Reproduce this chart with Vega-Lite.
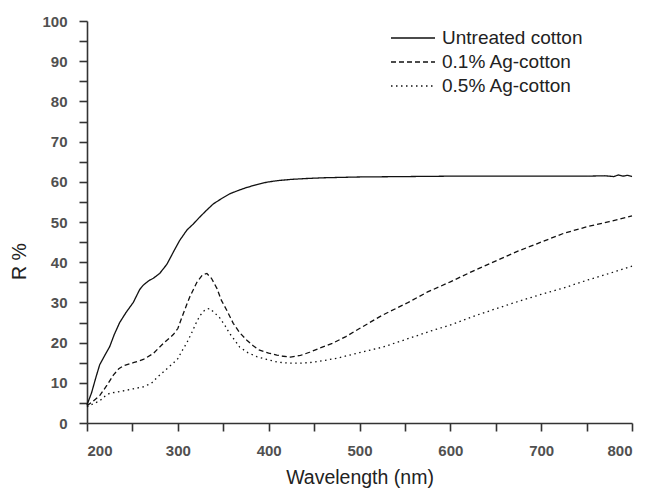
{
  "$schema": "https://vega.github.io/schema/vega-lite/v6.json",
  "width": 545,
  "height": 402,
  "autosize": "none",
  "padding": {"left": 87, "top": 21, "right": 13, "bottom": 66},
  "background": "white",
  "config": {
    "font": "Liberation Sans",
    "view": {"stroke": null},
    "axis": {"grid": false, "domainColor": "#333", "domainWidth": 1.6, "tickColor": "#333", "tickWidth": 1.6, "labelColor": "#505050", "labelFont": "Liberation Sans", "labelFontWeight": "bold", "labelFontSize": 15, "titleFont": "Liberation Sans", "titleFontWeight": "normal", "titleFontSize": 19.5, "titleColor": "#222"}
  },
  "data": {"values": [
    {"s":"Untreated cotton","x":200,"y":4.5},{"s":"Untreated cotton","x":205,"y":7.5},{"s":"Untreated cotton","x":210,"y":11.5},{"s":"Untreated cotton","x":214,"y":14.5},{"s":"Untreated cotton","x":220,"y":17},{"s":"Untreated cotton","x":225,"y":19},{"s":"Untreated cotton","x":230,"y":22},{"s":"Untreated cotton","x":236,"y":25},{"s":"Untreated cotton","x":243,"y":27.5},{"s":"Untreated cotton","x":251,"y":30},{"s":"Untreated cotton","x":258,"y":33.2},{"s":"Untreated cotton","x":262,"y":34.3},{"s":"Untreated cotton","x":268,"y":35.4},{"s":"Untreated cotton","x":273,"y":36},{"s":"Untreated cotton","x":280,"y":37.2},{"s":"Untreated cotton","x":288,"y":39.5},{"s":"Untreated cotton","x":295,"y":42.5},{"s":"Untreated cotton","x":302,"y":45.4},{"s":"Untreated cotton","x":310,"y":48},{"s":"Untreated cotton","x":317,"y":49.5},{"s":"Untreated cotton","x":324,"y":51.2},{"s":"Untreated cotton","x":332,"y":53},{"s":"Untreated cotton","x":339,"y":54.5},{"s":"Untreated cotton","x":348,"y":55.8},{"s":"Untreated cotton","x":357,"y":57},{"s":"Untreated cotton","x":366,"y":57.8},{"s":"Untreated cotton","x":376,"y":58.6},{"s":"Untreated cotton","x":387,"y":59.3},{"s":"Untreated cotton","x":398,"y":59.9},{"s":"Untreated cotton","x":410,"y":60.3},{"s":"Untreated cotton","x":425,"y":60.6},{"s":"Untreated cotton","x":440,"y":60.8},{"s":"Untreated cotton","x":460,"y":61},{"s":"Untreated cotton","x":480,"y":61.1},{"s":"Untreated cotton","x":500,"y":61.2},{"s":"Untreated cotton","x":550,"y":61.3},{"s":"Untreated cotton","x":600,"y":61.4},{"s":"Untreated cotton","x":650,"y":61.4},{"s":"Untreated cotton","x":700,"y":61.4},{"s":"Untreated cotton","x":750,"y":61.4},{"s":"Untreated cotton","x":770,"y":61.5},{"s":"Untreated cotton","x":780,"y":61.3},{"s":"Untreated cotton","x":785,"y":61.7},{"s":"Untreated cotton","x":790,"y":61.4},{"s":"Untreated cotton","x":795,"y":61.6},{"s":"Untreated cotton","x":800,"y":61.3},
    {"s":"0.1% Ag-cotton","x":200,"y":4.3},{"s":"0.1% Ag-cotton","x":207,"y":5.5},{"s":"0.1% Ag-cotton","x":214,"y":6.8},{"s":"0.1% Ag-cotton","x":222,"y":9.4},{"s":"0.1% Ag-cotton","x":229,"y":11.9},{"s":"0.1% Ag-cotton","x":235,"y":13.5},{"s":"0.1% Ag-cotton","x":240,"y":14.2},{"s":"0.1% Ag-cotton","x":251,"y":15},{"s":"0.1% Ag-cotton","x":262,"y":15.8},{"s":"0.1% Ag-cotton","x":273,"y":17.3},{"s":"0.1% Ag-cotton","x":284,"y":19.8},{"s":"0.1% Ag-cotton","x":295,"y":22},{"s":"0.1% Ag-cotton","x":300,"y":23.5},{"s":"0.1% Ag-cotton","x":304,"y":26},{"s":"0.1% Ag-cotton","x":309,"y":29},{"s":"0.1% Ag-cotton","x":313,"y":31.3},{"s":"0.1% Ag-cotton","x":321,"y":35},{"s":"0.1% Ag-cotton","x":327,"y":36.8},{"s":"0.1% Ag-cotton","x":332,"y":37.2},{"s":"0.1% Ag-cotton","x":337,"y":36},{"s":"0.1% Ag-cotton","x":343,"y":33.5},{"s":"0.1% Ag-cotton","x":348,"y":30.5},{"s":"0.1% Ag-cotton","x":354,"y":28},{"s":"0.1% Ag-cotton","x":361,"y":24.8},{"s":"0.1% Ag-cotton","x":368,"y":22.5},{"s":"0.1% Ag-cotton","x":376,"y":20.6},{"s":"0.1% Ag-cotton","x":383,"y":19.2},{"s":"0.1% Ag-cotton","x":390,"y":18.1},{"s":"0.1% Ag-cotton","x":400,"y":17.4},{"s":"0.1% Ag-cotton","x":409,"y":16.9},{"s":"0.1% Ag-cotton","x":416,"y":16.6},{"s":"0.1% Ag-cotton","x":424,"y":16.4},{"s":"0.1% Ag-cotton","x":435,"y":16.8},{"s":"0.1% Ag-cotton","x":445,"y":17.6},{"s":"0.1% Ag-cotton","x":456,"y":18.6},{"s":"0.1% Ag-cotton","x":470,"y":19.8},{"s":"0.1% Ag-cotton","x":485,"y":21.5},{"s":"0.1% Ag-cotton","x":500,"y":23.5},{"s":"0.1% Ag-cotton","x":525,"y":26.8},{"s":"0.1% Ag-cotton","x":552,"y":29.8},{"s":"0.1% Ag-cotton","x":575,"y":32.6},{"s":"0.1% Ag-cotton","x":600,"y":35.1},{"s":"0.1% Ag-cotton","x":625,"y":37.8},{"s":"0.1% Ag-cotton","x":651,"y":40.4},{"s":"0.1% Ag-cotton","x":675,"y":42.8},{"s":"0.1% Ag-cotton","x":700,"y":45},{"s":"0.1% Ag-cotton","x":725,"y":47.2},{"s":"0.1% Ag-cotton","x":750,"y":48.8},{"s":"0.1% Ag-cotton","x":775,"y":50.1},{"s":"0.1% Ag-cotton","x":800,"y":51.5},
    {"s":"0.5% Ag-cotton","x":200,"y":4},{"s":"0.5% Ag-cotton","x":207,"y":4.8},{"s":"0.5% Ag-cotton","x":214,"y":5.5},{"s":"0.5% Ag-cotton","x":220,"y":6.7},{"s":"0.5% Ag-cotton","x":225,"y":7.4},{"s":"0.5% Ag-cotton","x":236,"y":7.8},{"s":"0.5% Ag-cotton","x":251,"y":8.5},{"s":"0.5% Ag-cotton","x":262,"y":9},{"s":"0.5% Ag-cotton","x":271,"y":9.9},{"s":"0.5% Ag-cotton","x":278,"y":11.5},{"s":"0.5% Ag-cotton","x":284,"y":12.7},{"s":"0.5% Ag-cotton","x":295,"y":14.9},{"s":"0.5% Ag-cotton","x":300,"y":16},{"s":"0.5% Ag-cotton","x":304,"y":17.7},{"s":"0.5% Ag-cotton","x":310,"y":20},{"s":"0.5% Ag-cotton","x":315,"y":22.3},{"s":"0.5% Ag-cotton","x":320,"y":24.8},{"s":"0.5% Ag-cotton","x":324,"y":26.6},{"s":"0.5% Ag-cotton","x":330,"y":28.2},{"s":"0.5% Ag-cotton","x":335,"y":28.5},{"s":"0.5% Ag-cotton","x":340,"y":27.5},{"s":"0.5% Ag-cotton","x":346,"y":26.2},{"s":"0.5% Ag-cotton","x":352,"y":24.2},{"s":"0.5% Ag-cotton","x":357,"y":22.3},{"s":"0.5% Ag-cotton","x":363,"y":20.5},{"s":"0.5% Ag-cotton","x":368,"y":18.9},{"s":"0.5% Ag-cotton","x":377,"y":17.5},{"s":"0.5% Ag-cotton","x":387,"y":16.5},{"s":"0.5% Ag-cotton","x":398,"y":15.8},{"s":"0.5% Ag-cotton","x":409,"y":15.2},{"s":"0.5% Ag-cotton","x":416,"y":15},{"s":"0.5% Ag-cotton","x":424,"y":14.9},{"s":"0.5% Ag-cotton","x":436,"y":14.9},{"s":"0.5% Ag-cotton","x":449,"y":15.1},{"s":"0.5% Ag-cotton","x":462,"y":15.6},{"s":"0.5% Ag-cotton","x":475,"y":16.1},{"s":"0.5% Ag-cotton","x":500,"y":17.5},{"s":"0.5% Ag-cotton","x":526,"y":18.9},{"s":"0.5% Ag-cotton","x":559,"y":21.4},{"s":"0.5% Ag-cotton","x":580,"y":23},{"s":"0.5% Ag-cotton","x":603,"y":24.6},{"s":"0.5% Ag-cotton","x":625,"y":26.5},{"s":"0.5% Ag-cotton","x":651,"y":28.5},{"s":"0.5% Ag-cotton","x":673,"y":30.1},{"s":"0.5% Ag-cotton","x":700,"y":32},{"s":"0.5% Ag-cotton","x":725,"y":33.6},{"s":"0.5% Ag-cotton","x":750,"y":35.5},{"s":"0.5% Ag-cotton","x":775,"y":37.2},{"s":"0.5% Ag-cotton","x":800,"y":39}
  ]},
  "mark": {"type": "line", "strokeWidth": 1.3, "color": "#111"},
  "encoding": {
    "x": {"field": "x", "type": "quantitative", "scale": {"domain": [200, 800], "nice": false},
      "axis": {"title": "Wavelength (nm)", "values": [200,250,300,350,400,450,500,550,600,650,700,750,800], "labelExpr": "datum.value % 100 === 0 ? datum.label : ''", "tickSize": 8, "labelPadding": 12, "titlePadding": 10,
        "encode": {"ticks": {"update": {"y2": {"signal": "datum.value % 100 === 0 ? 8 : 6"}}}}}},
    "y": {"field": "y", "type": "quantitative", "scale": {"domain": [0, 100], "nice": false},
      "axis": {"title": "R %", "values": [0,5,10,15,20,25,30,35,40,45,50,55,60,65,70,75,80,85,90,95,100], "labelExpr": "datum.value % 10 === 0 ? datum.label : ''", "tickSize": 8, "labelPadding": 12, "titlePadding": 12, "titleY": 240,
        "encode": {"ticks": {"update": {"x2": {"signal": "datum.value % 10 === 0 ? -8 : -5"}}}}}},
    "strokeDash": {"field": "s", "type": "nominal",
      "scale": {"domain": ["Untreated cotton", "0.1% Ag-cotton", "0.5% Ag-cotton"], "range": [[1, 0], [5, 3], [1.5, 3.5]]},
      "legend": {"title": null, "orient": "none", "legendX": 303, "legendY": 5, "symbolType": "stroke", "symbolSize": 1936, "symbolStrokeWidth": 1.3, "symbolStrokeColor": "#111", "labelFontSize": 19, "labelColor": "#222", "labelOffset": 6, "clipHeight": 24, "rowPadding": 0}
    }
  }
}
